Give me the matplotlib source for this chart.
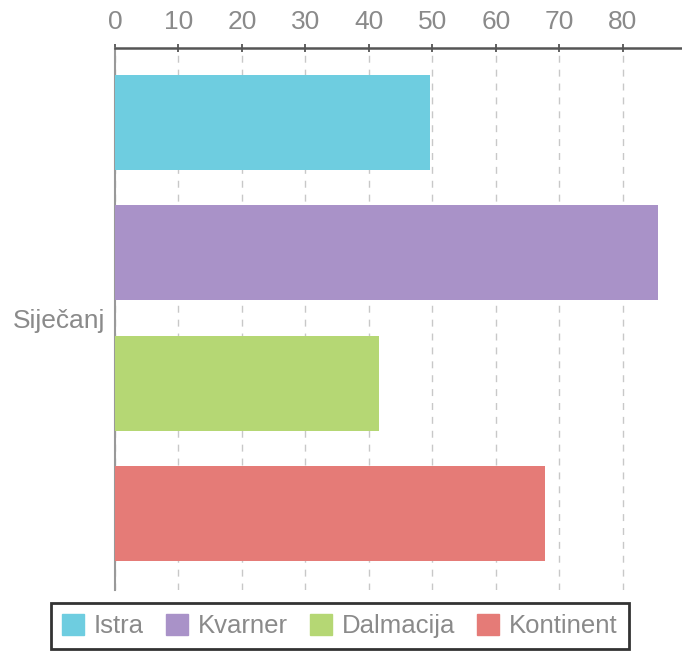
import numpy as np
import matplotlib.pyplot as plt
from matplotlib.patches import Patch

plt.rcParams['font.family'] = ['Liberation Sans', 'DejaVu Sans']

kategorija = 'Siječanj'
regije = ['Istra', 'Kvarner', 'Dalmacija', 'Kontinent']
vrijednosti = [49.6, 85.5, 41.6, 67.7]
boje = ['#6ecde0', '#a992c8', '#b5d774', '#e57b77']
xticks = [0, 10, 20, 30, 40, 50, 60, 70, 80]

siva = '#8a8a8a'

fig = plt.figure(figsize=(6.82, 6.52), dpi=100)
ax = fig.add_axes([115 / 682, 1 - 590 / 652, 1 - 115 / 682, (590 - 48) / 652])

pos = np.arange(len(regije))
ax.barh(pos, vrijednosti, height=0.73, color=boje, zorder=3)

ax.set_ylim(3.586, -0.571)
ax.set_xlim(0, 89.3)
ax.set_yticks([1.5])
ax.set_yticklabels([kategorija])
ax.set_xticks(xticks)

ax.xaxis.tick_top()
ax.tick_params(axis='x', colors='#555555', labelcolor=siva, labelsize=19,
               length=6, width=1.3, direction='inout', pad=7)
ax.tick_params(axis='y', length=0, labelcolor=siva, labelsize=19, pad=7)

ax.grid(axis='x', color='#c8c8c8', linestyle=(0, (5, 5)), linewidth=1, zorder=0)

for s in ['right', 'bottom']:
    ax.spines[s].set_visible(False)
ax.spines['top'].set_color('#555555')
ax.spines['top'].set_linewidth(1.8)
ax.spines['left'].set_color('#999999')
ax.spines['left'].set_linewidth(1.5)

handles = [Patch(color=c, label=r) for c, r in zip(boje, regije)]
leg = fig.legend(handles=handles, loc='lower center', bbox_to_anchor=(340 / 682, 3 / 652),
                 ncol=4, frameon=True, fancybox=False, fontsize=18.5,
                 handlelength=0.85, handleheight=0.85, handletextpad=0.4,
                 columnspacing=0.85, borderpad=0.42, borderaxespad=0)
leg.get_frame().set_edgecolor('black')
leg.get_frame().set_linewidth(2)
for t in leg.get_texts():
    t.set_color(siva)

fig.savefig('out.png', dpi=100)
